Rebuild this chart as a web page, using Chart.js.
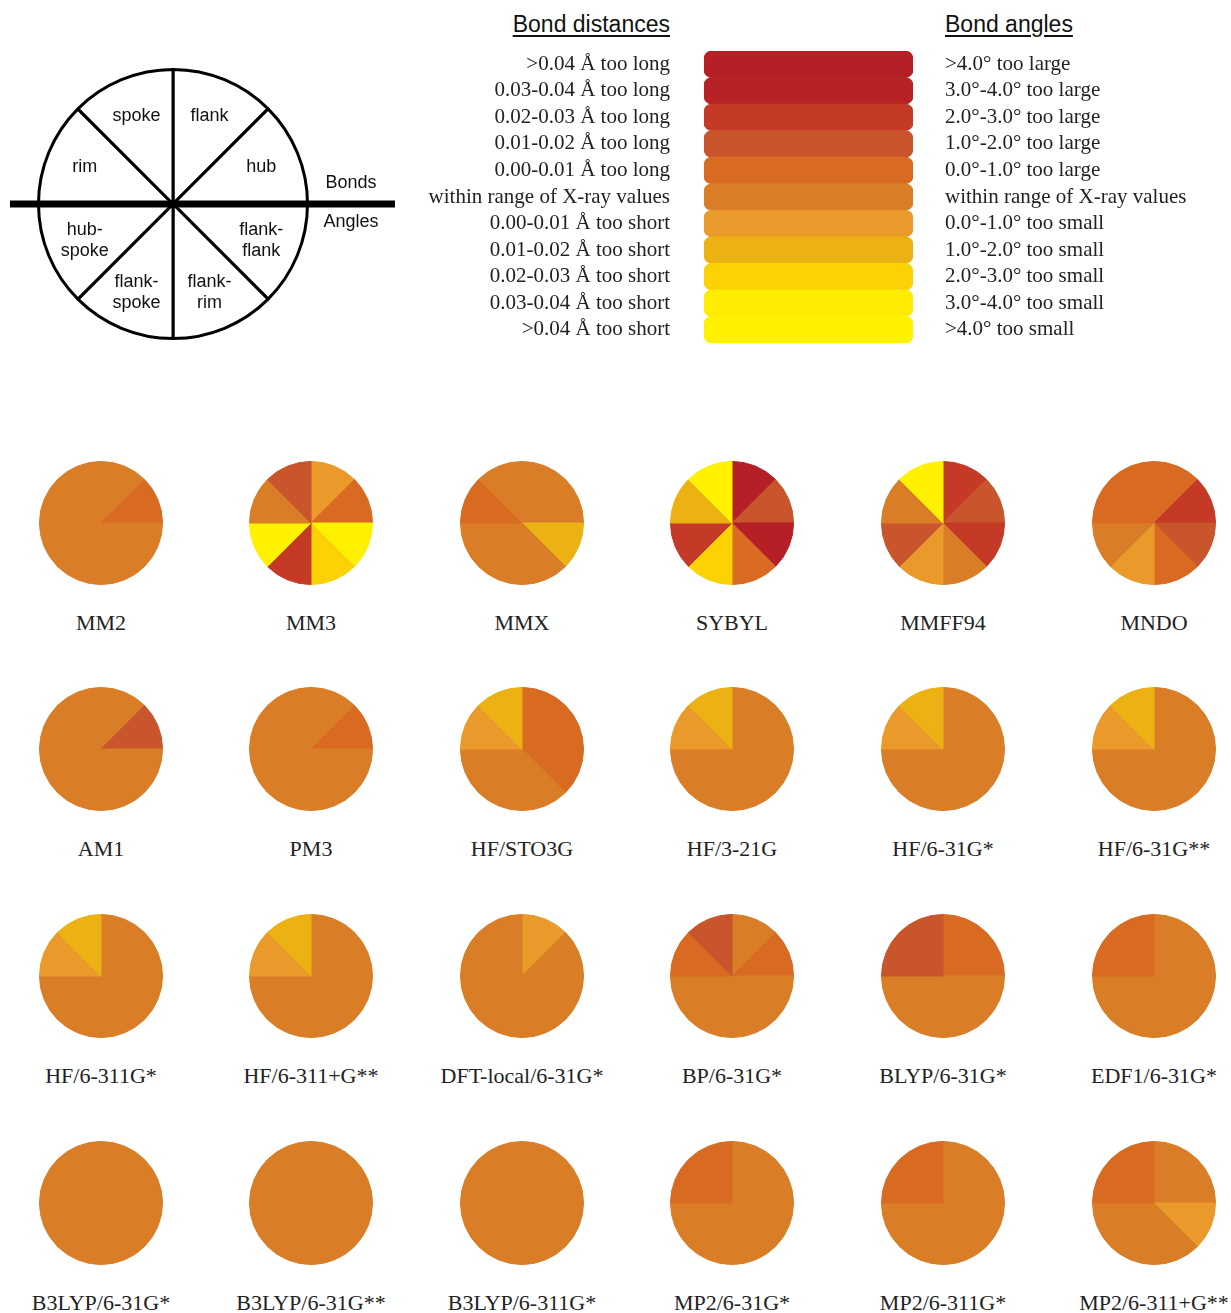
<!DOCTYPE html>
<html>
<head>
<meta charset="utf-8">
<script src="https://cdn.jsdelivr.net/npm/chart.js@4/dist/chart.umd.min.js"></script>
<style>
  body { margin: 0; background: #fff; }
  #page { position: relative; width: 1231px; height: 1313px; overflow: hidden; background: #fff; }
  #page canvas { position: absolute; }
  .head { position: absolute; top: 11px; font: 23px "Liberation Sans", Arial, sans-serif; color: #111;
          text-decoration: underline; text-underline-offset: 3px; }
  .cap { position: absolute; width: 210px; text-align: center; line-height: 24px;
         font: 22px "Liberation Serif", "Times New Roman", serif; color: #222; white-space: nowrap; }
</style>
</head>
<body>
<div id="page">
  <canvas id="keyChart" width="400" height="290" style="left:0;top:60px"></canvas>
  <canvas id="legendChart" width="811" height="315" style="left:420px;top:40px"></canvas>
  <div class="head" style="right:561px">Bond distances</div>
  <div class="head" style="left:945px">Bond angles</div>
</div>
<script>
// sectors, clockwise from 12 o'clock (top half = bonds, bottom half = angles)
var sectors = ["flank", "hub", "flank-flank", "flank-rim", "flank-spoke", "hub-spoke", "rim", "spoke"];
var sectorText = ["flank", "hub", "flank-\nflank", "flank-\nrim", "flank-\nspoke", "hub-\nspoke", "rim", "spoke"];

// deviation levels: 0 = far too long/large ... 5 = within X-ray range ... 10 = far too short/small
var levelColors = ["#B42025", "#B72227", "#C43A27", "#C8552B", "#D96A22", "#D97E27",
                   "#EA9A2B", "#ECB112", "#FCD204", "#FFEC00", "#FFF100"];
var distanceLabels = [">0.04 Å too long", "0.03-0.04 Å too long", "0.02-0.03 Å too long",
  "0.01-0.02 Å too long", "0.00-0.01 Å too long", "within range of X-ray values",
  "0.00-0.01 Å too short", "0.01-0.02 Å too short", "0.02-0.03 Å too short",
  "0.03-0.04 Å too short", ">0.04 Å too short"];
var angleLabels = [">4.0° too large", "3.0°-4.0° too large", "2.0°-3.0° too large",
  "1.0°-2.0° too large", "0.0°-1.0° too large", "within range of X-ray values",
  "0.0°-1.0° too small", "1.0°-2.0° too small", "2.0°-3.0° too small",
  "3.0°-4.0° too small", ">4.0° too small"];

var methods = ["MM2", "MM3", "MMX", "SYBYL", "MMFF94", "MNDO",
  "AM1", "PM3", "HF/STO3G", "HF/3-21G", "HF/6-31G*", "HF/6-31G**",
  "HF/6-311G*", "HF/6-311+G**", "DFT-local/6-31G*", "BP/6-31G*", "BLYP/6-31G*", "EDF1/6-31G*",
  "B3LYP/6-31G*", "B3LYP/6-31G**", "B3LYP/6-311G*", "MP2/6-31G*", "MP2/6-311G*", "MP2/6-311+G**"];

// level per sector (order as in sectors)
var mm2      = [5, 4, 5, 5, 5, 5, 5, 5];
var mm3      = [6, 4, 10, 8, 2, 10, 5, 3];
var mmx      = [5, 5, 7, 5, 5, 5, 4, 5];
var sybyl    = [0, 3, 0, 4, 8, 2, 7, 10];
var mmff94   = [2, 3, 2, 5, 6, 3, 5, 10];
var mndo     = [4, 2, 3, 4, 6, 5, 4, 4];
var am1      = [5, 3, 5, 5, 5, 5, 5, 5];
var pm3      = [5, 4, 5, 5, 5, 5, 5, 5];
var hfSto3g  = [4, 4, 4, 5, 5, 5, 6, 7];
var hf321    = [5, 5, 5, 5, 5, 5, 6, 7];
var hf631s   = [5, 5, 5, 5, 5, 5, 6, 7];
var hf631ss  = [5, 5, 5, 5, 5, 5, 6, 7];
var hf6311s  = [5, 5, 5, 5, 5, 5, 6, 7];
var hf6311pss= [5, 5, 5, 5, 5, 5, 6, 7];
var dftLocal = [6, 5, 5, 5, 5, 5, 5, 5];
var bp       = [5, 4, 5, 5, 5, 5, 4, 3];
var blyp     = [4, 4, 5, 5, 5, 5, 3, 3];
var edf1     = [5, 5, 5, 5, 5, 5, 4, 4];
var b3lyp631s   = [5, 5, 5, 5, 5, 5, 5, 5];
var b3lyp631ss  = [5, 5, 5, 5, 5, 5, 5, 5];
var b3lyp6311s  = [5, 5, 5, 5, 5, 5, 5, 5];
var mp2631s     = [5, 5, 5, 5, 5, 5, 4, 4];
var mp26311s    = [5, 5, 5, 5, 5, 5, 4, 4];
var mp26311pss  = [5, 5, 6, 5, 5, 5, 4, 4];
var levelRows = [mm2, mm3, mmx, sybyl, mmff94, mndo, am1, pm3, hfSto3g, hf321, hf631s, hf631ss,
  hf6311s, hf6311pss, dftLocal, bp, blyp, edf1, b3lyp631s, b3lyp631ss, b3lyp6311s,
  mp2631s, mp26311s, mp26311pss];

var colX = [101, 311, 522, 732, 943, 1154];
var rowY = [523, 749, 976, 1203];
var equalParts = sectors.map(function () { return 1; });

Chart.defaults.animation = false;
Chart.defaults.events = [];
Chart.defaults.plugins.legend.display = false;
Chart.defaults.plugins.tooltip.enabled = false;

// ---- key diagram ----
var keyLabels = {
  id: "keyLabels",
  afterDraw: function (chart) {
    var ctx = chart.ctx;
    var arcs = chart.getDatasetMeta(0).data;
    var cy = arcs[0].y;
    ctx.save();
    ctx.strokeStyle = "#000";
    ctx.lineWidth = 7;
    ctx.beginPath();
    ctx.moveTo(10, cy);
    ctx.lineTo(395, cy);
    ctx.stroke();
    ctx.fillStyle = "#111";
    ctx.font = "18px 'Liberation Sans', Arial, sans-serif";
    ctx.textAlign = "center";
    ctx.textBaseline = "middle";
    arcs.forEach(function (a, i) {
      var p = a.getProps(["x", "y", "startAngle", "endAngle", "outerRadius"]);
      var mid = (p.startAngle + p.endAngle) / 2;
      var r = p.outerRadius * 0.71;
      var lines = sectorText[i].split("\n");
      var x = p.x + Math.cos(mid) * r;
      var y = p.y + Math.sin(mid) * r - (lines.length - 1) * 10.5;
      lines.forEach(function (t, k) { ctx.fillText(t, x, y + k * 21); });
    });
    ctx.fillText("Bonds", 351, cy - 21);
    ctx.fillText("Angles", 351, cy + 18);
    ctx.restore();
  }
};

new Chart(document.getElementById("keyChart"), {
  type: "pie",
  data: {
    labels: sectors,
    datasets: [{ data: equalParts, backgroundColor: "#fff", borderColor: "#000", borderWidth: 3 }]
  },
  options: {
    responsive: false,
    layout: { padding: { left: 36, right: 90, top: 8, bottom: 10 } }
  },
  plugins: [keyLabels]
});

// ---- colour legend ----
var legendFont = { family: "'Liberation Serif', serif", size: 21 };
function fixAxis(w) {
  return function (s) { s.width = w; s.paddingTop = 0; s.paddingBottom = 0; };
}
new Chart(document.getElementById("legendChart"), {
  type: "bar",
  data: {
    labels: distanceLabels,
    datasets: [{
      data: distanceLabels.map(function () { return 1; }),
      backgroundColor: levelColors,
      borderRadius: 8,
      borderSkipped: false,
      barPercentage: 1,
      categoryPercentage: 1
    }]
  },
  options: {
    responsive: false,
    indexAxis: "y",
    layout: { padding: { top: 11, bottom: 12 } },
    scales: {
      x: { display: false, min: 0, max: 1 },
      y: {
        position: "left",
        grid: { display: false, drawTicks: false },
        border: { display: false },
        ticks: { autoSkip: false, padding: 34, color: "#222", font: legendFont },
        afterFit: fixAxis(284)
      },
      y2: {
        type: "category",
        labels: angleLabels,
        position: "right",
        offset: true,
        grid: { display: false, drawTicks: false },
        border: { display: false },
        ticks: { autoSkip: false, padding: 32, color: "#222", font: legendFont },
        afterFit: fixAxis(318)
      }
    }
  }
});

// ---- method pies ----
var page = document.getElementById("page");
methods.forEach(function (name, i) {
  var cx = colX[i % 6], cy = rowY[Math.floor(i / 6)];
  var cv = document.createElement("canvas");
  cv.width = 124; cv.height = 124;
  cv.style.left = (cx - 62) + "px";
  cv.style.top = (cy - 62) + "px";
  page.appendChild(cv);
  var cols = levelRows[i].map(function (lv) { return levelColors[lv]; });
  new Chart(cv, {
    type: "pie",
    data: {
      labels: sectors,
      datasets: [{ data: equalParts, backgroundColor: cols, borderColor: cols, borderWidth: 1 }]
    },
    options: { responsive: false, layout: { padding: 0 } }
  });
  var cap = document.createElement("div");
  cap.className = "cap";
  cap.textContent = name;
  cap.style.left = (cx - 105) + "px";
  cap.style.top = (cy + 87) + "px";
  page.appendChild(cap);
});
</script>
</body>
</html>
